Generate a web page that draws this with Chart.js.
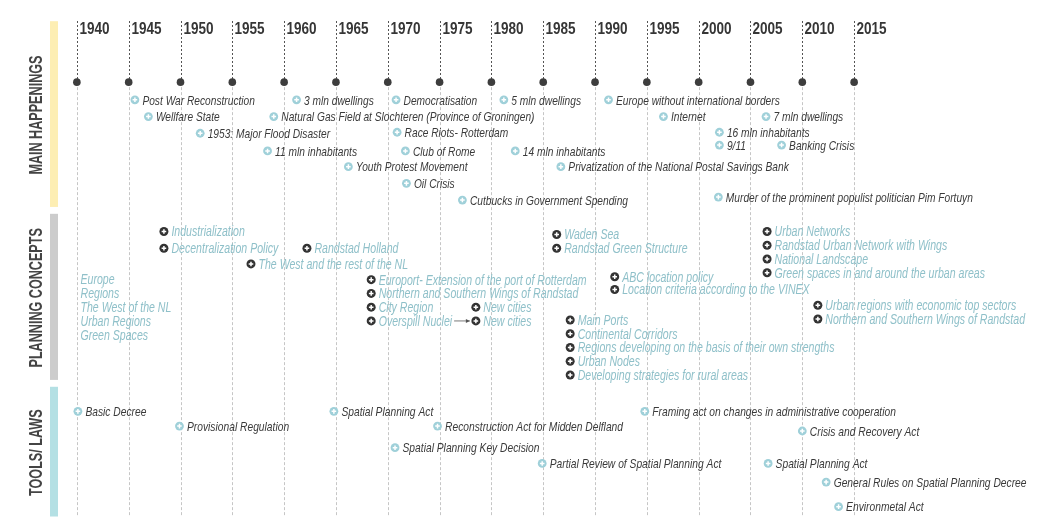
<!DOCTYPE html>
<html lang="en">
<head>
  <meta charset="UTF-8">
  <title>Spatial Planning Timeline 1940-2015</title>
  <script src="https://cdn.jsdelivr.net/npm/chart.js"></script>
  <style>
    html, body { margin: 0; padding: 0; background: #fff; }
    #wrap { width: 1046px; height: 521px; }
  </style>
</head>
<body>
  <div id="wrap"><canvas id="timeline" width="1046" height="521"></canvas></div>

  <script>
    // --- data ---
    const years = [1940, 1945, 1950, 1955, 1960, 1965, 1970, 1975, 1980, 1985, 1990, 1995, 2000, 2005, 2010, 2015];

    const sections = ['MAIN HAPPENINGS', 'PLANNING CONCEPTS', 'TOOLS/ LAWS'];
    const sectionTop = [17, 213, 389];
    const sectionBottom = [206, 382, 521];

    const happeningLabels = [
      'Post War Reconstruction', 'Wellfare State', '1953: Major Flood Disaster', '11 mln inhabitants',
      '3 mln dwellings', 'Natural Gas Field at Slochteren (Province of Groningen)', 'Youth Protest Movement',
      'Democratisation', 'Race Riots- Rotterdam', 'Club of Rome', 'Oil Crisis', 'Cutbucks in Government Spending',
      '5 mln dwellings', '14 mln inhabitants', 'Privatization of the National Postal Savings Bank',
      'Europe without international borders', 'Internet', '7 mln dwellings', '16 mln inhabitants', '9/11',
      'Banking Crisis', 'Murder of the prominent populist politician Pim Fortuyn'
    ];
    const happeningYears = [1945.6, 1946.9, 1951.9, 1958.4, 1961.2, 1959.0, 1966.2, 1970.8, 1970.9, 1971.7, 1971.8, 1977.2,
      1981.2, 1982.3, 1986.7, 1991.3, 1996.6, 2006.5, 2002.0, 2002.0, 2008.0, 2001.9];
    const happeningRows = [97, 114, 131, 149, 97, 114, 165, 97, 130, 149, 182, 199, 97, 149, 165, 97, 114, 114, 130, 143, 143, 196];

    const conceptLabels = [
      'Industrialization', 'Decentralization Policy', 'Randstad Holland', 'The West and the rest of the NL',
      'Europort- Extension of the port of Rotterdam', 'Northern and Southern Wings of Randstad', 'City Region',
      'Overspill Nuclei', 'New cities', 'New cities', 'Waden Sea', 'Randstad Green Structure', 'ABC location policy',
      'Location criteria according to the VINEX', 'Main Ports', 'Continental Corridors',
      'Regions developing on the basis of their own strengths', 'Urban Nodes', 'Developing strategies for rural areas',
      'Urban Networks', 'Randstad Urban Network with Wings', 'National Landscape',
      'Green spaces in and around the urban areas', 'Urban regions with economic top sectors',
      'Northern and Southern Wings of Randstad'
    ];
    const conceptYears = [1948.4, 1948.4, 1962.2, 1956.8, 1968.4, 1968.4, 1968.4, 1968.4, 1978.5, 1978.5, 1986.3, 1986.3,
      1991.9, 1991.9, 1987.6, 1987.6, 1987.6, 1987.6, 1987.6, 2006.6, 2006.6, 2006.6, 2006.6, 2011.5, 2011.5];
    const conceptRows = [231, 248, 248, 264, 280, 294, 308, 322, 308, 322, 234, 248, 277, 290, 321, 335, 349, 363, 377,
      231, 245, 259, 273, 306, 320];
    const conceptLinks = [[7, 9]];   // Overspill Nuclei -> New cities

    const scaleLabels = ['Europe', 'Regions', 'The West of the NL', 'Urban Regions', 'Green Spaces'];
    const scaleYears = [1940.35, 1940.35, 1940.35, 1940.35, 1940.35];
    const scaleRows = [279, 294, 308, 322, 336];

    const toolLabels = [
      'Basic Decree', 'Provisional Regulation', 'Spatial Planning Act', 'Spatial Planning Key Decision',
      'Reconstruction Act for Midden Delfland', 'Partial Review of Spatial Planning Act',
      'Framing act on changes in administrative cooperation', 'Spatial Planning Act', 'Crisis and Recovery Act',
      'General Rules on Spatial Planning Decree', 'Environmetal Act'
    ];
    const toolYears = [1940.1, 1949.9, 1964.8, 1970.7, 1974.8, 1984.9, 1994.8, 2006.7, 2010.0, 2012.3, 2013.5];
    const toolRows = [414, 429, 414, 451, 429, 467, 414, 467, 434, 486, 511];

    const dotRow = 79;

    // --- styles ---
    const FONT = '"Liberation Sans", Arial, sans-serif';
    const sectionColors = ['#fdeeb3', '#cccccc', '#b4e0e4'];
    const darkText = '#3a3a3a';
    const tealText = '#8fc0c9';
    const lightIcon = '#9fd0d9';
    const darkIcon = '#333333';

    const pts = (xs, ys) => xs.map((x, i) => ({ x: x, y: ys[i] }));

    // no condensed face installed, so squeeze glyphs horizontally
    function squeezed(ctx, text, x, y, sx) {
      ctx.save();
      ctx.translate(x, y);
      ctx.scale(sx, 1);
      ctx.fillText(text, 0, 0);
      ctx.restore();
    }

    const timelinePlugin = {
      id: 'timeline',
      beforeDatasetsDraw(chart) {
        const { ctx, scales: { x, y } } = chart;
        ctx.save();

        // section bands + rotated titles
        sections.forEach((name, i) => {
          const top = y.getPixelForValue(sectionTop[i]);
          const bot = y.getPixelForValue(sectionBottom[i]);
          ctx.fillStyle = sectionColors[i];
          ctx.fillRect(50, top, 8, bot - top);
          ctx.save();
          ctx.translate(37, (top + bot) / 2 + 1);
          ctx.rotate(-Math.PI / 2);
          ctx.scale(0.7, 1);
          ctx.font = 'bold 18px ' + FONT;
          ctx.fillStyle = '#444';
          ctx.textAlign = 'center';
          ctx.textBaseline = 'middle';
          ctx.fillText(name, 0, 0);
          ctx.restore();
        });

        // year guide lines and labels
        const dotY = y.getPixelForValue(dotRow);
        years.forEach(yr => {
          const px = Math.round(x.getPixelForValue(yr)) + 0.5;
          ctx.lineWidth = 1;
          ctx.strokeStyle = '#555';
          ctx.setLineDash([2, 2]);
          ctx.beginPath(); ctx.moveTo(px, 21); ctx.lineTo(px, dotY); ctx.stroke();
          ctx.strokeStyle = '#c6c6c6';
          ctx.setLineDash([3, 2]);
          ctx.beginPath(); ctx.moveTo(px, dotY); ctx.lineTo(px, chart.chartArea.bottom); ctx.stroke();

          ctx.setLineDash([]);
          ctx.font = 'bold 16.5px ' + FONT;
          ctx.fillStyle = '#363636';
          ctx.textAlign = 'left';
          ctx.textBaseline = 'alphabetic';
          squeezed(ctx, String(yr), px + 2, 34, 0.82);
        });
        ctx.restore();
      },
      afterDatasetsDraw(chart) {
        const { ctx } = chart;
        ctx.save();
        chart.data.datasets.forEach((ds, di) => {
          if (!ds.labels) return;
          const meta = chart.getDatasetMeta(di);
          const font = 'italic ' + ds.fontSize + 'px ' + FONT;
          const sx = 0.755;
          meta.data.forEach((el, i) => {
            if (ds.pointRadius > 0) {
              ctx.strokeStyle = '#fff';
              ctx.lineWidth = 1.5;
              ctx.beginPath();
              ctx.moveTo(el.x - 2.3, el.y); ctx.lineTo(el.x + 2.3, el.y);
              ctx.moveTo(el.x, el.y - 2.3); ctx.lineTo(el.x, el.y + 2.3);
              ctx.stroke();
            }
            ctx.font = font;
            ctx.fillStyle = ds.textColor;
            ctx.textAlign = 'left';
            ctx.textBaseline = 'middle';
            squeezed(ctx, ds.labels[i], el.x + (ds.pointRadius > 0 ? 7.5 : 0), el.y + 1, sx);
          });
          if (ds.links) {
            ds.links.forEach(([a, b]) => {
              const from = meta.data[a], to = meta.data[b];
              ctx.font = font;
              const x0 = from.x + 7.5 + ctx.measureText(ds.labels[a]).width * sx + 2;
              const x1 = to.x - 6;
              ctx.strokeStyle = '#555';
              ctx.lineWidth = 0.8;
              ctx.beginPath(); ctx.moveTo(x0, from.y); ctx.lineTo(x1, to.y); ctx.stroke();
              ctx.fillStyle = '#555';
              ctx.beginPath();
              ctx.moveTo(x1, to.y); ctx.lineTo(x1 - 4, to.y - 2); ctx.lineTo(x1 - 4, to.y + 2);
              ctx.closePath(); ctx.fill();
            });
          }
        });
        ctx.restore();
      }
    };

    const slope = (857 - 73) / 75;

    new Chart(document.getElementById('timeline'), {
      type: 'scatter',
      data: {
        datasets: [
          { data: pts(years, years.map(() => dotRow)), pointRadius: 3.8, backgroundColor: '#3d3d3d', borderWidth: 0 },
          { labels: happeningLabels, textColor: darkText, fontSize: 13.5, data: pts(happeningYears, happeningRows),
            pointRadius: 4.4, backgroundColor: lightIcon, borderWidth: 0 },
          { labels: conceptLabels, textColor: tealText, fontSize: 14, links: conceptLinks,
            data: pts(conceptYears, conceptRows), pointRadius: 4.5, backgroundColor: darkIcon, borderWidth: 0 },
          { labels: scaleLabels, textColor: tealText, fontSize: 14, data: pts(scaleYears, scaleRows), pointRadius: 0 },
          { labels: toolLabels, textColor: darkText, fontSize: 13.6, data: pts(toolYears, toolRows),
            pointRadius: 4.4, backgroundColor: lightIcon, borderWidth: 0 }
        ]
      },
      options: {
        responsive: false,
        animation: false,
        events: [],
        layout: { padding: 0 },
        scales: {
          x: { type: 'linear', display: false, min: 1940 - 73 / slope, max: 1940 + (1046 - 73) / slope },
          y: { type: 'linear', display: false, reverse: true, min: 0, max: 521 }
        },
        plugins: { legend: { display: false }, tooltip: { enabled: false } }
      },
      plugins: [timelinePlugin]
    });
  </script>
</body>
</html>
